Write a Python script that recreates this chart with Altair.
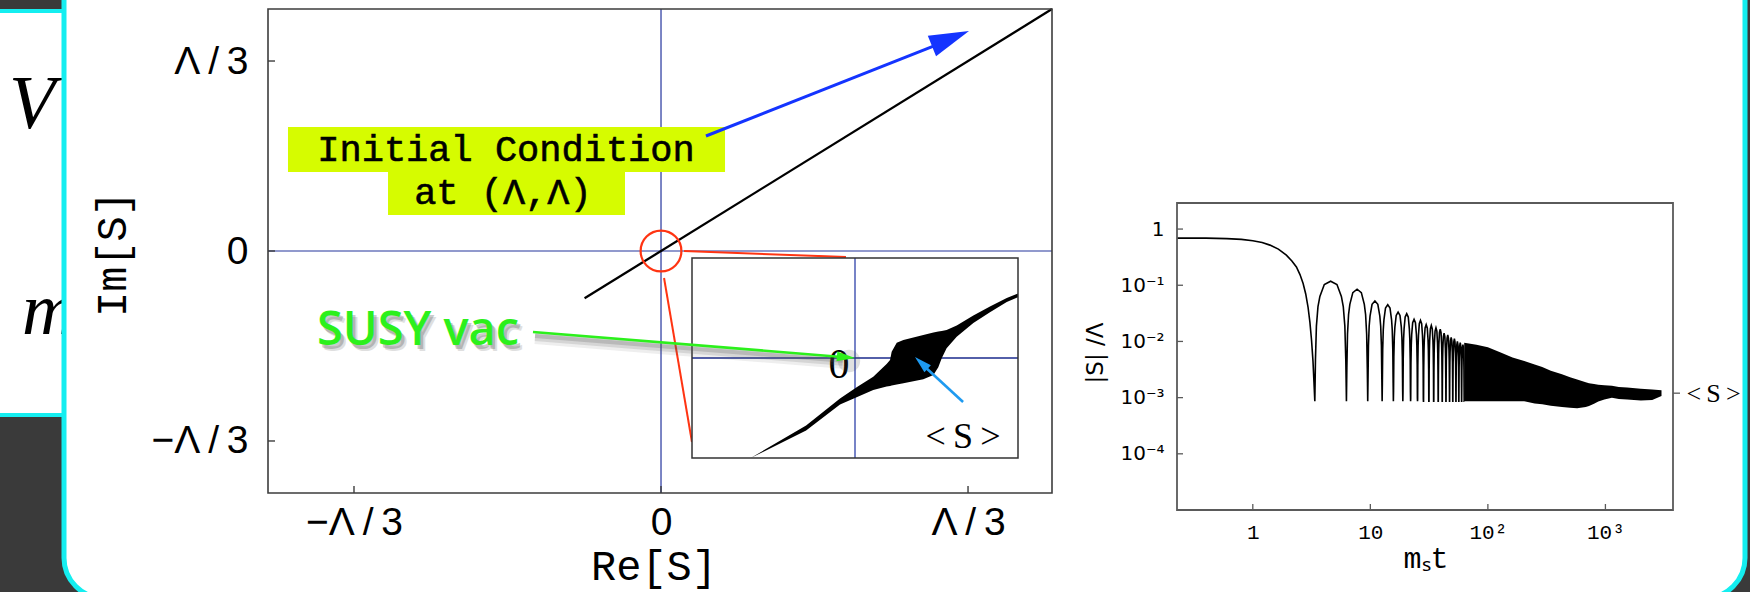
import altair as alt
import pandas as pd

W, H = 1750, 592

# colours
CYAN = "#14eef0"
SLATE = "#3a3a3a"
AXIS_BLUE = "#24349c"
RED = "#ff3412"
LIME = "#d6fc00"
ARROW_BLUE = "#1434ff"
SKY = "#1e9af0"
GREEN = "#2cf01c"
FRAME = "#3d3d3d"

# ---------------- Re[S] - Im[S] plane (units of Lambda) ----------------
plane_ticks = [-1 / 3, 0.0, 1 / 3]
traj_re = [-0.083, 1.0]          # straight run towards the initial condition
traj_im = [-0.083, 1.0]

# ---------------- close-up of the vacuum region (inset units) ----------------
inset_x = [-0.64, -0.30, -0.092, 0.010, 0.112, 0.194, 0.215, 0.225, 0.256, 0.297, 0.419,
           0.481, 0.511, 0.532, 0.562, 0.624, 0.726, 0.828, 0.931, 0.992, 1.0]
inset_hi = [-1.01, -0.675, -0.405, -0.293, -0.187, -0.06, -0.02, 0.063, 0.153, 0.18, 0.23,
            0.255, 0.265, 0.27, 0.28, 0.325, 0.425, 0.515, 0.600, 0.640, 0.645]
inset_lo = [-1.06, -0.725, -0.465, -0.393, -0.32, -0.285, -0.28, -0.275, -0.265, -0.252, -0.213,
            -0.17, -0.093, -0.003, 0.097, 0.213, 0.350, 0.458, 0.560, 0.603, 0.608]

# ---------------- |S|/Lambda against m_s t ----------------
decay_t = [0.2265, 0.40, 0.60, 0.80, 1.0, 1.2, 1.4, 1.65, 1.93, 2.15, 2.35, 2.52, 2.68,
           2.82, 2.95, 3.06, 3.16, 3.25, 3.31, 3.37]
decay_s = [0.69, 0.69, 0.675, 0.655, 0.62, 0.575, 0.518, 0.44, 0.343, 0.27, 0.212, 0.155,
           0.107, 0.07, 0.041, 0.022, 0.0105, 0.0045, 0.002, 8.6e-4]
dip_t = [3.37, 6.26, 9.5, 12.6, 15.7, 18.9, 22.0, 25.2, 28.3, 31.5, 34.6, 37.8, 40.9,
         44.0, 47.2, 50.3, 53.5, 56.6, 59.8, 62.9]
peak_s = [0.118, 0.085, 0.0525, 0.0452, 0.0334, 0.0312, 0.0247, 0.0237, 0.0199, 0.0193,
          0.0175, 0.0165, 0.0140, 0.0130, 0.0118, 0.0112, 0.0100, 0.0095, 0.0088]
# profile of one oscillation: position between two zeros (in log t) and drop below its peak (decades)
arch_u = [0.02, 0.05, 0.10, 0.16, 0.30, 0.5, 0.70, 0.84, 0.90, 0.95, 0.98]
arch_drop = [-1.4, -0.8, -0.45, -0.27, -0.06, 0.0, -0.06, -0.27, -0.45, -0.8, -1.4]
floor_s = 8.6e-4
band_t = [62.9, 80, 100, 130, 162, 204, 250, 290, 343, 427, 500, 575, 680, 725, 800, 870,
          980, 1135, 1300, 1530, 2000, 2500, 3000]
band_hi = [9.5e-3, 8.7e-3, 7.9e-3, 6.3e-3, 5.2e-3, 4.5e-3, 3.9e-3, 3.5e-3, 3.0e-3, 2.6e-3,
           2.3e-3, 2.1e-3, 1.88e-3, 1.8e-3, 1.74e-3, 1.7e-3, 1.66e-3, 1.62e-3, 1.55e-3,
           1.51e-3, 1.44e-3, 1.40e-3, 1.35e-3]
band_lo = [8.6e-4, 8.6e-4, 8.6e-4, 8.6e-4, 8.6e-4, 8.6e-4, 7.9e-4, 7.6e-4, 7.2e-4, 6.8e-4,
           6.6e-4, 6.5e-4, 6.8e-4, 7.1e-4, 7.8e-4, 8.5e-4, 9.3e-4, 1.0e-3, 9.5e-4, 9.3e-4,
           8.9e-4, 9.1e-4, 1.07e-3]
vev_s = 1.2e-3
time_ticks = [1, 10, 100, 1000]
abs_ticks = [1, 0.1, 0.01, 0.001, 0.0001]

# ---------------- layout of the three coordinate frames (pixels) ----------------
PL_X, PL_Y = [268, 1052], [493, 9]
IN_X, IN_Y = [692, 1018], [458, 258]
RT_X, RT_Y = [1177, 1673], [510, 203]


def lin(dom, rng, clamp=False):
    return alt.Scale(type="linear", domain=dom, range=rng, nice=False, zero=False, clamp=clamp)


def logsc(dom, rng):
    return alt.Scale(type="log", domain=dom, range=rng, nice=False)


def px(f, clamp=False, axis=None):
    return alt.X(f"{f}:Q", scale=lin([-0.4267, 0.4245], PL_X, clamp), axis=axis)


def py(f, clamp=False, axis=None):
    return alt.Y(f"{f}:Q", scale=lin([-0.4246, 0.4246], PL_Y, clamp), axis=axis)


def ix(f):
    return alt.X(f"{f}:Q", scale=lin([-1, 1], IN_X), axis=None)


def iy(f, clamp=False):
    return alt.Y(f"{f}:Q", scale=lin([-1, 1], IN_Y, clamp), axis=None)


def rx(f, axis=None):
    return alt.X(f"{f}:Q", scale=logsc([0.2265, 3758], RT_X), axis=axis)


def ry(f, axis=None):
    return alt.Y(f"{f}:Q", scale=logsc([1e-5, 2.91], RT_Y), axis=axis)


def guide(**kw):
    base = dict(ticks=False, domain=False, grid=False, labelColor="black", title=None,
                labelFlush=False, labelOverlap=False, zindex=2)
    base.update(kw)
    return alt.Axis(**base)


one = pd.DataFrame({"k": [0]})
HEAD = "M0,0L0.55,2L-0.55,2Z"   # arrow head with its tip on the anchor point

layers = []

# ---- slide background pieces ----
layers.append(alt.Chart(one).mark_rect(fill="white", stroke=CYAN, strokeWidth=4, cornerRadius=22).encode(
    x=alt.value(-40), x2=alt.value(160), y=alt.value(11), y2=alt.value(415)))
layers.append(alt.Chart(one).mark_text(text="V", font="Liberation Serif", fontStyle="italic", fontSize=76,
                                       align="left", baseline="alphabetic", color="black").encode(
    x=alt.value(9), y=alt.value(128)))
layers.append(alt.Chart(one).mark_text(text="m", font="Liberation Serif", fontStyle="italic", fontSize=74,
                                       align="left", baseline="alphabetic", color="black").encode(
    x=alt.value(22), y=alt.value(334)))
layers.append(alt.Chart(one).mark_rect(fill="white", stroke=CYAN, strokeWidth=5, cornerRadius=40).encode(
    x=alt.value(64), x2=alt.value(1745), y=alt.value(-40), y2=alt.value(598)))

# ---- phase plane ----
cross = pd.DataFrame({"x": [0.0, -0.4267], "x2": [0.0, 0.4245], "y": [-0.4246, 0.0], "y2": [0.4246, 0.0]})
layers.append(alt.Chart(cross).mark_rule(color=AXIS_BLUE, strokeWidth=1.2).encode(
    x=px("x"), x2="x2", y=py("y"), y2="y2"))

traj = pd.DataFrame({"re": traj_re, "im": traj_im})
layers.append(alt.Chart(traj).mark_line(color="black", strokeWidth=2.3).encode(
    x=px("re", clamp=True), y=py("im", clamp=True)))

layers.append(alt.Chart(one).mark_rect(fillOpacity=0, stroke=FRAME, strokeWidth=1.6).encode(
    x=alt.value(PL_X[0]), x2=alt.value(PL_X[1]), y=alt.value(PL_Y[1]), y2=alt.value(PL_Y[0])))

plane_lab = ("datum.value < -0.1 ? '\u2212\u039b\u2009/\u20093' : "
             "(datum.value > 0.1 ? '\u039b\u2009/\u20093' : '0')")
ptk = pd.DataFrame({"v": plane_ticks})
layers.append(alt.Chart(ptk).mark_rule(color=FRAME, strokeWidth=1.4).encode(
    x=px("v", axis=guide(orient="bottom", offset=-(H - PL_Y[0]), values=plane_ticks, labelExpr=plane_lab,
                         labelFont="Liberation Sans", labelFontSize=39, labelPadding=10)),
    y=alt.value(PL_Y[0]), y2=alt.value(PL_Y[0] - 7)))
layers.append(alt.Chart(ptk).mark_rule(color=FRAME, strokeWidth=1.4).encode(
    y=py("v", axis=guide(orient="left", offset=-PL_X[0], values=plane_ticks, labelExpr=plane_lab,
                         labelFont="Liberation Sans", labelFontSize=39, labelPadding=20)),
    x=alt.value(PL_X[0]), x2=alt.value(PL_X[0] + 7)))

layers.append(alt.Chart(one).mark_text(text="Re[S]", font="Liberation Mono", fontSize=42, color="black",
                                       baseline="middle").encode(x=alt.value(654), y=alt.value(567)))
layers.append(alt.Chart(one).mark_text(text="Im[S]", font="Liberation Mono", fontSize=42, color="black",
                                       baseline="middle", angle=270).encode(x=alt.value(113), y=alt.value(254)))

# initial-condition callout
boxes = pd.DataFrame({"x": [-0.4050, -0.2964], "x2": [0.0695, -0.0391],
                      "y": [0.1386, 0.0632], "y2": [0.2176, 0.1386]})
layers.append(alt.Chart(boxes).mark_rect(color=LIME).encode(x=px("x"), x2="x2", y=py("y"), y2="y2"))
callout = pd.DataFrame({"x": [-0.1683, -0.1716], "y": [0.1772, 0.1018],
                        "txt": ["Initial Condition", "at (\u039b,\u039b)"]})
layers.append(alt.Chart(callout).mark_text(font="Liberation Mono", fontSize=37, color="black",
                                           baseline="middle", stroke="black", strokeWidth=0.6).encode(
    x=px("x"), y=py("y"), text="txt:N"))
blue_arrow = pd.DataFrame({"x": [0.0488], "y": [0.2018], "x2": [0.300], "y2": [0.362]})
layers.append(alt.Chart(blue_arrow).mark_rule(color=ARROW_BLUE, strokeWidth=3).encode(
    x=px("x"), y=py("y"), x2="x2", y2="y2"))
layers.append(alt.Chart(pd.DataFrame({"x": [0.3344], "y": [0.386]})).mark_point(
    shape=HEAD, filled=True, size=1600, angle=68, color=ARROW_BLUE, opacity=1).encode(x=px("x"), y=py("y")))

# zoom marker
layers.append(alt.Chart(pd.DataFrame({"x": [0.0], "y": [0.0]})).mark_point(
    shape="circle", filled=False, size=1660, stroke=RED, strokeWidth=2.2, opacity=1).encode(x=px("x"), y=py("y")))
zoom_lines = pd.DataFrame({"x": [0.025, 0.0033], "y": [0.0, -0.0474], "x2": [0.2008, 0.0336], "y2": [-0.0105, -0.3351]})
layers.append(alt.Chart(zoom_lines).mark_rule(color=RED, strokeWidth=2).encode(
    x=px("x"), y=py("y"), x2="x2", y2="y2"))

# ---- inset ----
layers.append(alt.Chart(one).mark_rect(fill="white").encode(
    x=alt.value(IN_X[0]), x2=alt.value(IN_X[1]), y=alt.value(IN_Y[1]), y2=alt.value(IN_Y[0])))
icross = pd.DataFrame({"x": [0.0, -1.0], "x2": [0.0, 1.0], "y": [-1.0, 0.0], "y2": [1.0, 0.0],
                       "c": ["v", "h"]})
layers.append(alt.Chart(icross).mark_rule(strokeWidth=1.5).encode(
    x=ix("x"), x2="x2", y=iy("y"), y2="y2",
    color=alt.Color("c:N", scale=alt.Scale(domain=["v", "h"], range=["#4a5ab4", "#1a2a8c"]), legend=None)))
band = pd.DataFrame({"x": inset_x, "hi": inset_hi, "lo": inset_lo})
layers.append(alt.Chart(band).mark_area(color="black").encode(x=ix("x"), y=iy("hi", clamp=True), y2="lo"))
layers.append(alt.Chart(one).mark_rect(fillOpacity=0, stroke="#333333", strokeWidth=1.5).encode(
    x=alt.value(IN_X[0]), x2=alt.value(IN_X[1]), y=alt.value(IN_Y[1]), y2=alt.value(IN_Y[0])))
layers.append(alt.Chart(pd.DataFrame({"x": [-0.098], "y": [-0.07]})).mark_text(
    text="0", font="Liberation Serif", fontSize=42, color="black", baseline="middle").encode(x=ix("x"), y=iy("y")))
layers.append(alt.Chart(pd.DataFrame({"x": [0.663], "y": [-0.79]})).mark_text(
    text="<\u2009S\u2009>", font="Liberation Serif", fontSize=36, color="black", baseline="middle").encode(
    x=ix("x"), y=iy("y")))
sky = pd.DataFrame({"x": [0.663], "y": [-0.44], "x2": [0.44], "y2": [-0.105]})
layers.append(alt.Chart(sky).mark_rule(color=SKY, strokeWidth=2.6).encode(x=ix("x"), y=iy("y"), x2="x2", y2="y2"))
layers.append(alt.Chart(pd.DataFrame({"x": [0.368], "y": [0.01]})).mark_point(
    shape=HEAD, filled=True, size=300, angle=313, color=SKY, opacity=1).encode(x=ix("x"), y=iy("y")))

# ---- "SUSY vac" pointer (with soft drop shadow) ----
green = pd.DataFrame({"x": [-0.139], "y": [-0.1421], "x2": [0.193], "y2": [-0.1855]})
for w, op, off in [(12, 0.10, 6), (8, 0.16, 5), (4, 0.22, 4)]:
    layers.append(alt.Chart(green).mark_rule(color="#555555", strokeWidth=w, opacity=op,
                                              yOffset=off, y2Offset=off, xOffset=2, x2Offset=4).encode(
        x=px("x"), y=py("y"), x2="x2", y2="y2"))
layers.append(alt.Chart(pd.DataFrame({"x": [0.2106], "y": [-0.1877]})).mark_point(
    shape="circle", filled=True, size=500, color="#555555", opacity=0.18, xOffset=-6, yOffset=3).encode(
    x=px("x"), y=py("y")))
layers.append(alt.Chart(green).mark_rule(color=GREEN, strokeWidth=2.6).encode(
    x=px("x"), y=py("y"), x2="x2", y2="y2"))
layers.append(alt.Chart(pd.DataFrame({"x": [0.2106], "y": [-0.1877]})).mark_point(
    shape=HEAD, filled=True, size=330, angle=95, color=GREEN, opacity=1).encode(x=px("x"), y=py("y")))
susy = pd.DataFrame({"x": [-0.2638], "y": [-0.1404], "txt": ["SUSY vac"]})
for op, dx, dy in [(0.18, 5, 6), (0.30, 3, 4)]:
    layers.append(alt.Chart(susy).mark_text(font="Open Sans", fontSize=47, fontWeight=600, color="#555555",
                                            opacity=op, baseline="middle", dx=dx, dy=dy).encode(
        x=px("x"), y=py("y"), text="txt:N"))
layers.append(alt.Chart(susy).mark_text(font="Open Sans", fontSize=47, fontWeight=600, color=GREEN,
                                        baseline="middle").encode(x=px("x"), y=py("y"), text="txt:N"))

# ---- |S| against time ----
curve_t, curve_s = list(decay_t), list(decay_s)
for i, amp in enumerate(peak_s):
    t0, t1 = dip_t[i], dip_t[i + 1]
    for u, d in zip(arch_u, arch_drop):
        curve_t.append(t0 * (t1 / t0) ** u)
        curve_s.append(max(amp * 10 ** d, floor_s))
    curve_t.append(t1)
    curve_s.append(floor_s)
curve = pd.DataFrame({"t": curve_t, "s": curve_s})
layers.append(alt.Chart(curve).mark_line(color="black", strokeWidth=1.6).encode(x=rx("t"), y=ry("s")))
dense = pd.DataFrame({"t": band_t, "hi": band_hi, "lo": band_lo})
layers.append(alt.Chart(dense).mark_area(color="black").encode(x=rx("t"), y=ry("hi"), y2="lo"))

layers.append(alt.Chart(one).mark_rect(fillOpacity=0, stroke="#5a5a5a", strokeWidth=1.8).encode(
    x=alt.value(RT_X[0]), x2=alt.value(RT_X[1]), y=alt.value(RT_Y[1]), y2=alt.value(RT_Y[0])))

time_lab = "datum.value < 5 ? '1' : (datum.value < 50 ? '10' : (datum.value < 500 ? '10\u00b2' : '10\u00b3'))"
abs_lab = ("datum.value > 0.5 ? '1' : (datum.value > 0.05 ? '10\u207b\u00b9' : (datum.value > 0.005 ? "
           "'10\u207b\u00b2' : (datum.value > 0.0005 ? '10\u207b\u00b3' : '10\u207b\u2074')))")
layers.append(alt.Chart(pd.DataFrame({"v": time_ticks})).mark_rule(color="#5a5a5a", strokeWidth=1.3).encode(
    x=rx("v", axis=guide(orient="bottom", offset=-(H - RT_Y[0]), values=time_ticks, labelExpr=time_lab,
                         labelFont="Liberation Mono", labelFontSize=21, labelPadding=11)),
    y=alt.value(RT_Y[0]), y2=alt.value(RT_Y[0] - 6)))
layers.append(alt.Chart(pd.DataFrame({"v": abs_ticks})).mark_rule(color="#5a5a5a", strokeWidth=1.3).encode(
    y=ry("v", axis=guide(orient="left", offset=-RT_X[0], values=abs_ticks, labelExpr=abs_lab,
                         labelFont="DejaVu Sans", labelFontSize=20, labelPadding=13)),
    x=alt.value(RT_X[0]), x2=alt.value(RT_X[0] + 6)))
layers.append(alt.Chart(pd.DataFrame({"v": [vev_s]})).mark_rule(color="#5a5a5a", strokeWidth=1.3).encode(
    y=ry("v", axis=guide(orient="right", offset=-(W - RT_X[1] - 7), values=[vev_s],
                         labelExpr="'<\u2009S\u2009>'", labelFont="Liberation Serif", labelFontSize=26,
                         labelPadding=6)),
    x=alt.value(RT_X[1]), x2=alt.value(RT_X[1] + 7)))
layers.append(alt.Chart(one).mark_text(text="m\u209bt", font="Liberation Mono", fontSize=30, color="black",
                                       baseline="middle").encode(x=alt.value(1426), y=alt.value(559)))
layers.append(alt.Chart(one).mark_text(text="|S| /\u039b", font="DejaVu Sans", fontSize=23, color="black",
                                       baseline="middle", angle=270).encode(x=alt.value(1096), y=alt.value(353)))

chart = alt.layer(*layers).resolve_scale(x="independent", y="independent", color="independent").properties(
    width=W, height=H, background=SLATE, padding=0, autosize=alt.AutoSizeParams(type="none")
).configure_view(stroke=None)

chart.save("out.html", embed_options={"renderer": "svg", "actions": False})
